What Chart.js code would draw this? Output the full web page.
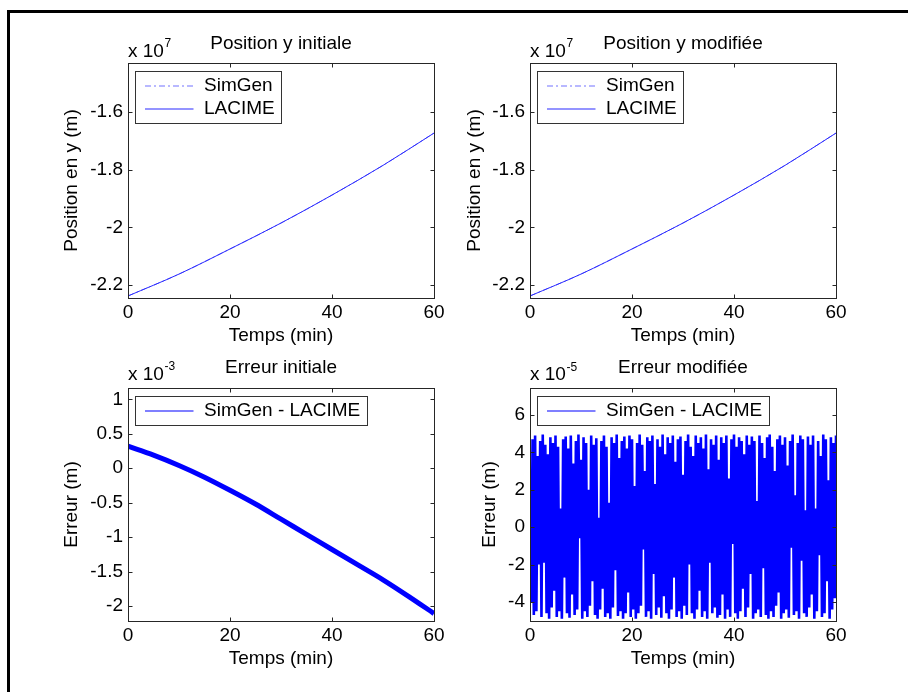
<!DOCTYPE html>
<html>
<head>
<meta charset="utf-8">
<script src="https://cdn.jsdelivr.net/npm/chart.js@4.4.0/dist/chart.umd.min.js"></script>
<style>
html, body { margin: 0; padding: 0; background: #ffffff; width: 908px; height: 692px; overflow: hidden; }
#frame { position: absolute; left: 7px; top: 10px; width: 1000px; height: 1000px; border-left: 3px solid #000; border-top: 3px solid #000; }
canvas { position: absolute; }
</style>
</head>
<body>
<div id="frame"></div>
<canvas id="cTL" width="454" height="350" style="left:0px;top:0px"></canvas>
<canvas id="cTR" width="402" height="350" style="left:454px;top:0px"></canvas>
<canvas id="cBL" width="454" height="346" style="left:0px;top:346px"></canvas>
<canvas id="cBR" width="402" height="346" style="left:454px;top:346px"></canvas>
<script>
// ---------------- data ----------------
const timeTicks = [0, 20, 40, 60];

// Position y (x 10^7 m), sampled every 10 min
const posTime = [0, 10, 20, 30, 40, 50, 60];
const posInitSimGen = [-2.238, -2.162, -2.075, -1.985, -1.888, -1.785, -1.673];
const posInitLacime = [-2.238, -2.162, -2.075, -1.985, -1.888, -1.785, -1.673];
const posModSimGen  = [-2.238, -2.162, -2.075, -1.985, -1.888, -1.785, -1.673];
const posModLacime  = [-2.238, -2.162, -2.075, -1.985, -1.888, -1.785, -1.673];
const posTicks = [-2.2, -2, -1.8, -1.6];

// Erreur initiale (x 10^-3 m), sampled every 5 min
const errInitTime = [0, 5, 10, 15, 20, 25, 30, 35, 40, 45, 50, 55, 60];
const errInit = [0.32, 0.19, 0.04, -0.13, -0.32, -0.52, -0.74, -0.96, -1.18, -1.40, -1.62, -1.86, -2.11];
const errInitTicks = [-2, -1.5, -1, -0.5, 0, 0.5, 1];

// Erreur modifiee (x 10^-5 m): alternating peaks / troughs, one sample every 0.25 min
const errModStep = 0.25;
const errModPeaks = [
  2.8, 4.7, 4.9, 3.8, 4.6, 4.95, 4.4, 3.9, 4.8, 4.5,
  4.9, 4.3, 1.0, 4.7, 4.85, 4.2, 4.9, 3.4, 4.6, 4.95,
  3.6, 4.8, 4.5, 2.0, 4.9, 4.4, 4.75, 0.5, 4.6, 4.9,
  4.3, 1.3, 4.8, 4.5, 4.95, 3.7, 4.6, 4.85, 4.2, 4.9,
  4.7, 2.2, 4.5, 4.95, 4.4, 3.0, 4.8, 4.6, 4.9, 2.3,
  4.7, 4.3, 4.95, 3.9, 4.8, 4.5, 4.9, 3.5, 4.7, 4.85,
  2.8, 4.6, 4.95, 4.3, 3.8, 4.9, 4.5, 4.8, 4.2, 4.95,
  3.1, 4.7, 4.4, 4.9, 3.6, 4.8, 4.5, 4.9, 2.6, 4.7,
  4.95, 4.3, 4.8, 4.6, 3.9, 4.9, 4.4, 4.85, 4.6, 1.4,
  4.9, 4.5, 3.7, 4.8, 4.95, 4.3, 3.0, 4.7, 4.9, 4.4,
  4.8, 3.3, 4.6, 4.95, 1.7, 4.5, 4.9, 4.7, 0.9, 4.85,
  4.4, 4.9, 1.0, 4.6, 3.8, 4.95, 4.7, 2.5, 4.8, 4.5,
  4.9
];
const errModTroughs = [
  -4.0, -4.7, -4.5, -2.0, -4.8, -1.9, -4.6, -4.9, -4.3, -3.4,
  -4.8, -4.5, -4.9, -2.7, -4.6, -4.85, -3.6, -4.7, -4.4, -0.6,
  -4.9, -4.5, -4.8, -4.2, -2.9, -4.7, -4.9, -4.4, -3.3, -4.8,
  -4.6, -4.9, -4.3, -2.3, -4.75, -4.5, -4.9, -4.6, -3.5, -4.8,
  -4.4, -4.9, -4.6, -4.2, -1.2, -4.8, -4.5, -4.9, -2.5, -4.7,
  -4.3, -4.85, -3.7, -4.6, -4.9, -4.4, -2.7, -4.8, -4.5, -4.9,
  -4.2, -4.7, -2.0, -4.6, -4.9, -4.4, -3.4, -4.8, -4.5, -4.9,
  -1.9, -4.6, -4.3, -4.85, -4.7, -3.6, -4.9, -4.4, -4.8, -0.9,
  -4.6, -4.9, -4.5, -3.3, -4.8, -4.3, -2.5, -4.9, -4.6, -4.4,
  -4.8, -2.2, -4.7, -4.9, -4.5, -4.8, -4.2, -3.5, -4.9, -4.6,
  -4.4, -4.85, -1.1, -4.7, -4.5, -4.9, -1.8, -4.6, -4.8, -4.3,
  -3.6, -4.9, -4.5, -1.5, -4.8, -4.6, -2.9, -4.9, -4.4, -3.8
];
const errModTicks = [-4, -2, 0, 2, 4, 6];

// ---------------- helpers ----------------
const FONT = "'Liberation Sans', Arial, Helvetica, sans-serif";
Chart.defaults.font.family = FONT;
Chart.defaults.font.size = 19;
Chart.defaults.color = '#000';

function pts(xs, ys) { return ys.map((y, i) => ({ x: xs[i], y: y })); }
function interleave(peaks, troughs, step) {
  const out = [];
  let k = 0;
  for (let i = 0; i < peaks.length; i++) {
    out.push({ x: k * step, y: peaks[i] }); k++;
    if (i < troughs.length) { out.push({ x: k * step, y: troughs[i] }); k++; }
  }
  return out;
}

const framePlugin = {
  id: 'mframe',
  afterDraw(chart, args, opts) {
    const ctx = chart.ctx, a = chart.chartArea;
    const L = Math.round(a.left) + 0.5, R = Math.round(a.right) + 0.5;
    const T = Math.round(a.top) + 0.5, B = Math.round(a.bottom) + 0.5;
    ctx.save();
    ctx.strokeStyle = '#262626';
    ctx.lineWidth = 1;
    ctx.setLineDash([]);
    ctx.beginPath();
    const tl = 4;
    chart.scales.x.ticks.forEach(t => {
      const px = Math.round(chart.scales.x.getPixelForValue(t.value)) + 0.5;
      ctx.moveTo(px, B); ctx.lineTo(px, B - tl);
      ctx.moveTo(px, T); ctx.lineTo(px, T + tl);
    });
    chart.scales.y.ticks.forEach(t => {
      const py = Math.round(chart.scales.y.getPixelForValue(t.value)) + 0.5;
      ctx.moveTo(L, py); ctx.lineTo(L + tl, py);
      ctx.moveTo(R, py); ctx.lineTo(R - tl, py);
    });
    ctx.stroke();
    ctx.strokeRect(L, T, R - L, B - T);

    // exponent label "x 10^n"
    const e = opts.exp;
    ctx.fillStyle = '#000';
    ctx.textBaseline = 'alphabetic';
    ctx.textAlign = 'left';
    ctx.font = '19px ' + FONT;
    const by = a.top - e.dy;
    ctx.fillText('x 10', a.left, by);
    const w = ctx.measureText('x 10').width;
    ctx.font = '12px ' + FONT;
    ctx.fillText(e.power, a.left + w + 0.5, by - 9.5);

    // legend box
    const ds = chart.data.datasets;
    ctx.font = '19px ' + FONT;
    let maxW = 0;
    ds.forEach(d => { maxW = Math.max(maxW, ctx.measureText(d.label).width); });
    const bx = Math.round(a.left + 7) + 0.5;
    const byy = Math.round(a.top + 8) + 0.5;
    const bw = Math.round(68.5 + maxW + 7);
    const bh = 29 + 23 * (ds.length - 1);
    ctx.fillStyle = '#fff';
    ctx.fillRect(bx, byy, bw, bh);
    ctx.strokeStyle = '#333';
    ctx.strokeRect(bx, byy, bw, bh);
    ds.forEach((d, i) => {
      const cy = byy + 14.5 + 23 * i;
      ctx.save();
      ctx.strokeStyle = d.legendColor || d.borderColor;
      ctx.lineWidth = 1.2;
      ctx.setLineDash(d.borderDash || []);
      ctx.beginPath();
      ctx.moveTo(bx + 9.5, cy); ctx.lineTo(bx + 58, cy);
      ctx.stroke();
      ctx.restore();
      ctx.fillStyle = '#000';
      ctx.textBaseline = 'middle';
      ctx.fillText(d.label, bx + 68.5, cy);
    });
    ctx.restore();
  }
};

function makeChart(id, c) {
  return new Chart(document.getElementById(id), {
    type: 'line',
    data: { datasets: c.datasets },
    options: {
      responsive: false,
      maintainAspectRatio: false,
      animation: false,
      events: [],
      layout: { padding: { left: 0, top: 0, right: 20, bottom: 0 } },
      elements: { point: { radius: 0 } },
      plugins: {
        legend: { display: false },
        tooltip: { enabled: false },
        title: {
          display: true, text: c.title, fullSize: false, color: '#000',
          font: { size: 19, weight: 'normal', family: FONT },
          padding: { top: c.titleTop, bottom: c.titleBottom }
        },
        mframe: { exp: c.exp }
      },
      scales: {
        x: {
          type: 'linear', min: 0, max: 60,
          grid: { display: false, drawTicks: false },
          border: { display: false },
          ticks: { padding: 3, color: '#000', font: { size: 19 }, callback: v => String(v) },
          afterBuildTicks: s => { s.ticks = timeTicks.map(v => ({ value: v })); },
          afterFit: s => { s.height = c.xH; },
          title: { display: true, text: 'Temps (min)', color: '#000', font: { size: 19 }, padding: { top: 0, bottom: c.xTitleBottom } }
        },
        y: {
          type: 'linear', min: c.yMin, max: c.yMax,
          grid: { display: false, drawTicks: false },
          border: { display: false },
          ticks: { padding: 5, color: '#000', font: { size: 19 }, callback: v => String(v) },
          afterBuildTicks: s => { s.ticks = c.yTicks.map(v => ({ value: v })); },
          afterFit: s => { s.width = c.yW; },
          title: { display: true, text: c.yTitle, color: '#000', font: { size: 19 }, padding: { top: c.yTitleTop, bottom: 0 } }
        }
      }
    },
    plugins: [framePlugin]
  });
}

const lineOpts = { pointRadius: 0, clip: 0, cubicInterpolationMode: 'monotone' };

makeChart('cTL', {
  title: 'Position y initiale', titleTop: 32, titleBottom: 8.2,
  yTitle: 'Position en y (m)', yTitleTop: 60, yW: 128,
  xH: 52, xTitleBottom: 3.2,
  yMin: -2.245, yMax: -1.430, yTicks: posTicks,
  exp: { power: '7', dy: 6.5 },
  datasets: [
    Object.assign({ label: 'SimGen', data: pts(posTime, posInitSimGen), borderColor: '#7373ff', borderWidth: 1, borderDash: [6, 3, 2, 3], order: 1 }, lineOpts),
    Object.assign({ label: 'LACIME', data: pts(posTime, posInitLacime), borderColor: '#2a2aff', borderWidth: 1, order: 0 }, lineOpts)
  ]
});

makeChart('cTR', {
  title: 'Position y modifiée', titleTop: 32, titleBottom: 8.2,
  yTitle: 'Position en y (m)', yTitleTop: 9.7, yW: 76,
  xH: 52, xTitleBottom: 3.2,
  yMin: -2.245, yMax: -1.430, yTicks: posTicks,
  exp: { power: '7', dy: 6.5 },
  datasets: [
    Object.assign({ label: 'SimGen', data: pts(posTime, posModSimGen), borderColor: '#7373ff', borderWidth: 1, borderDash: [6, 3, 2, 3], order: 1 }, lineOpts),
    Object.assign({ label: 'LACIME', data: pts(posTime, posModLacime), borderColor: '#2a2aff', borderWidth: 1, order: 0 }, lineOpts)
  ]
});

makeChart('cBL', {
  title: 'Erreur initiale', titleTop: 10.3, titleBottom: 8.9,
  yTitle: 'Erreur (m)', yTitleTop: 60, yW: 128,
  xH: 71, xTitleBottom: 22.2,
  yMin: -2.218, yMax: 1.164, yTicks: errInitTicks,
  exp: { power: '-3', dy: 8.5 },
  datasets: [
    Object.assign({ label: 'SimGen - LACIME', data: pts(errInitTime, errInit), borderColor: '#0000ff', borderWidth: 5 }, lineOpts)
  ]
});

makeChart('cBR', {
  title: 'Erreur modifiée', titleTop: 10.3, titleBottom: 8.9,
  yTitle: 'Erreur (m)', yTitleTop: 24.7, yW: 76,
  xH: 71, xTitleBottom: 22.2,
  yMin: -5.02, yMax: 7.44, yTicks: errModTicks,
  exp: { power: '-5', dy: 8 },
  datasets: [
    { label: 'SimGen - LACIME', data: interleave(errModPeaks, errModTroughs, errModStep), borderColor: '#0000ff', borderWidth: 2.6, pointRadius: 0, clip: 0, tension: 0, borderJoinStyle: 'miter' }
  ]
});
</script>
</body>
</html>
